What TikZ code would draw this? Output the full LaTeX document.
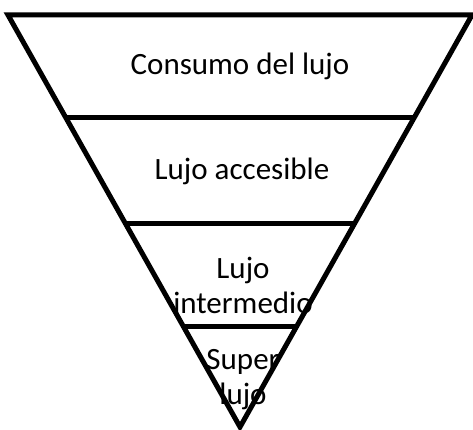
\documentclass[tikz,border=0pt]{standalone}
\usepackage{fontspec}
\setmainfont{Carlito}
\usetikzlibrary{calc}

\begin{document}
\begin{tikzpicture}[x=1pt,y=-1pt]

\useasboundingbox (0,0) rectangle (473,430);

\coordinate (tl) at (8,15);
\coordinate (tr) at (472,15);
\coordinate (apex) at (240,427);

\draw[-,color=black,line width=5pt] (tl) to (tr) to (apex) -- cycle;

%%%%%%%%%%%%%%%%%%%%%%%%%%%%%%%%%%%%%%%%%%%%
\draw[-,color=black,line width=5pt] ($(tl)!0.25!(apex)$) to ($(tr)!0.25!(apex)$);
\draw[-,color=black,line width=5pt] ($(tl)!0.505!(apex)$) to ($(tr)!0.505!(apex)$);
\draw[-,color=black,line width=5pt] ($(tl)!0.757!(apex)$) to ($(tr)!0.757!(apex)$);

\node[anchor=base,font=\fontsize{31}{35}\selectfont] (consumo) at (240,75) {Consumo del lujo};
\node[anchor=base,font=\fontsize{31}{35}\selectfont] (accesible) at (242,180) {Lujo accesible};
\node[align=center,font=\fontsize{31}{35}\selectfont] (intermedio) at (243,285) {Lujo\\intermedio};
\node[align=center,font=\fontsize{31}{35}\selectfont] (superlujo) at (243,380) {Super\\lujo};

\end{tikzpicture}
\end{document}
